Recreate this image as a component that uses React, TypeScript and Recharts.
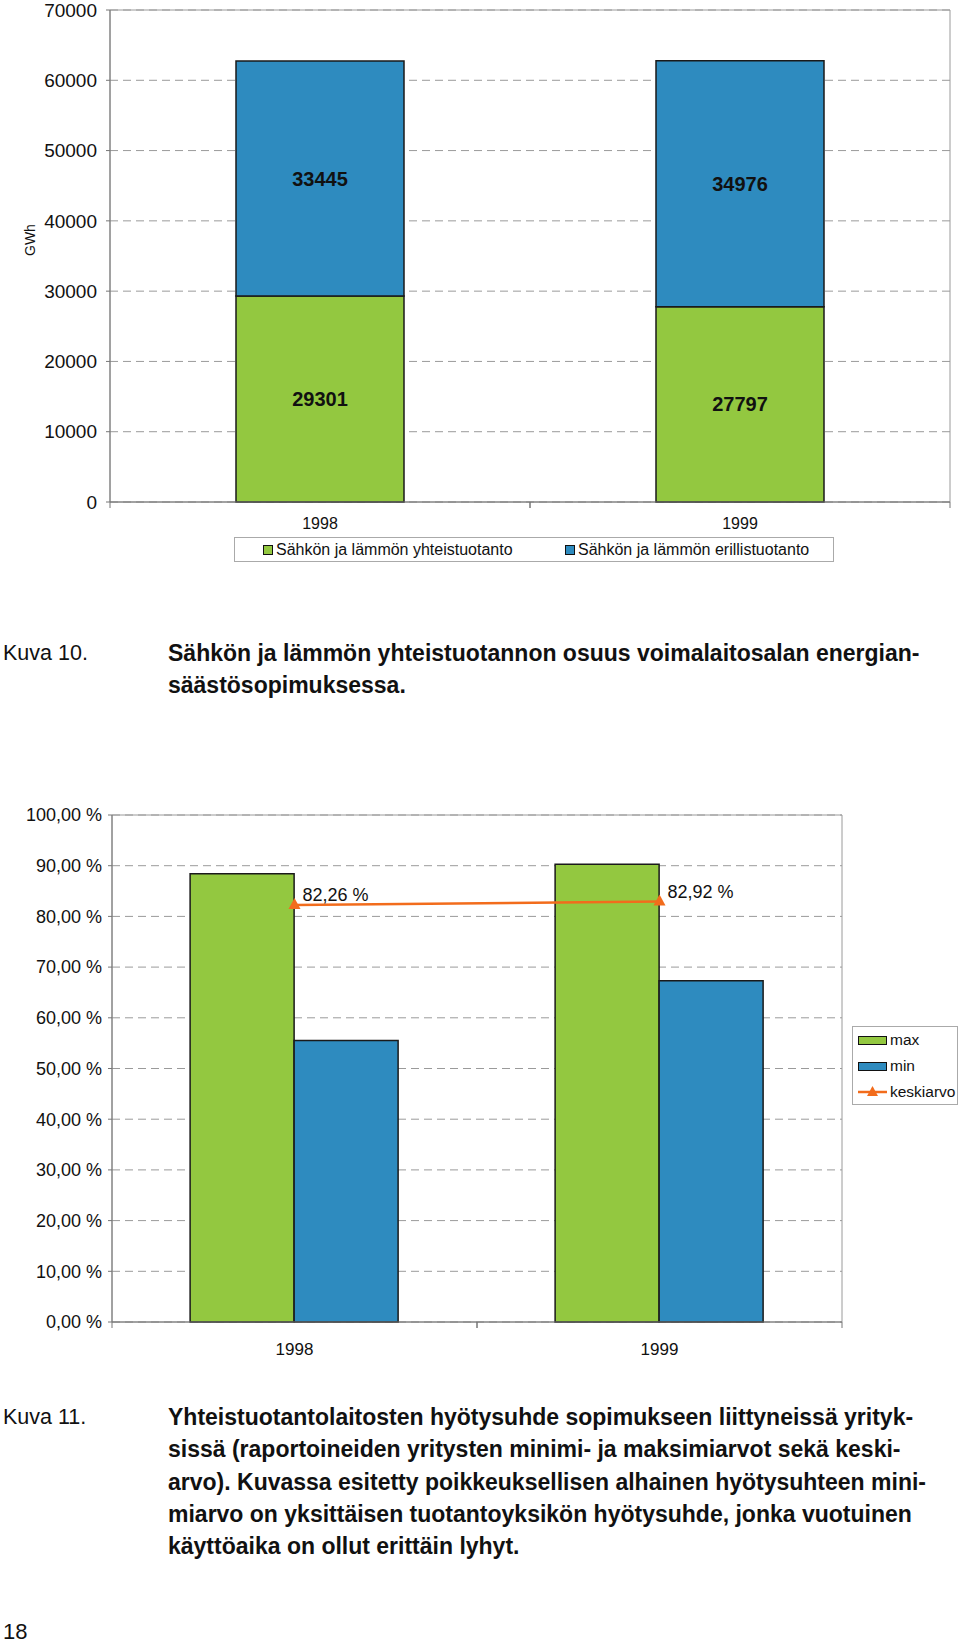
import { Bar, BarChart, CartesianGrid, ComposedChart, LabelList, Line, ReferenceArea, XAxis, YAxis } from "recharts";

const years = ["1998", "1999"];
const chpValues = [29301, 27797];
const separateValues = [33445, 34976];
const gwhTicks = [0, 10000, 20000, 30000, 40000, 50000, 60000, 70000];
const topSeriesNames = ["Sähkön ja lämmön yhteistuotanto", "Sähkön ja lämmön erillistuotanto"];

const maxValues = [0.884, 0.903];
const minValues = [0.555, 0.673];
const meanValues = [0.8226, 0.8292];
const pctTicks = [0, 0.1, 0.2, 0.3, 0.4, 0.5, 0.6, 0.7, 0.8, 0.9, 1];
const bottomSeriesNames = ["max", "min", "keskiarvo"];

const GREEN = "#93c840";
const BLUE = "#2e8bbf";
const ORANGE = "#f26c1c";
const FONT = "'Liberation Sans', Arial, Helvetica, sans-serif";

const topData = years.map((year, i) => ({ year, chp: chpValues[i], sep: separateValues[i] }));
const bottomData = years.map((year, i) => ({ year, max: maxValues[i], min: minValues[i], mean: meanValues[i] }));

const fmtPct = (v: number) => (v * 100).toFixed(2).replace(".", ",") + " %";

// category label plus Excel-style tick marks on the band edges
const CatTick = ({ x, y, payload, gap, fontSize, halfBand }: any) => {
    const off = payload?.offset || halfBand;
    const ay = y - gap;
    return (
        <g>
            <line x1={x - off} y1={ay} x2={x - off} y2={ay + 6} stroke="#777" />
            <line x1={x + off} y1={ay} x2={x + off} y2={ay + 6} stroke="#777" />
            <text x={x} y={y} dy="0.71em" textAnchor="middle" fontSize={fontSize} fill="#111" fontFamily={FONT}>{payload.value}</text>
        </g>
    );
};

const Triangle = ({ cx, cy }: any) => {
    if (cx == null || cy == null) return null;
    return <polygon points={`${cx},${cy - 7} ${cx - 6},${cy + 4} ${cx + 6},${cy + 4}`} fill={ORANGE} />;
};

const meanLabel = ({ x, y, value }: any) => (
    <text x={x + 8} y={y - 4} fontSize={18} fill="#111" fontFamily={FONT}>{fmtPct(value)}</text>
);

const Swatch = ({ color, w, h }: { color: string; w: number; h: number }) => (
    <span style={{ display: "inline-block", width: w, height: h, background: color, border: "1px solid #111", boxSizing: "border-box" }} />
);

const caption = (top: number, text: string, bold = true, left = 168) => (
    <div style={{ position: "absolute", top: top - 14, left, fontSize: bold ? 23 : 21.5, lineHeight: "28px", fontWeight: bold ? "bold" : "normal", whiteSpace: "nowrap", color: "#111" }}>
        {text}
    </div>
);

export default function App() {
    return (
        <div style={{ position: "absolute", left: 0, top: 0, width: 960, height: 1648, background: "#fff", fontFamily: FONT, color: "#111" }}>
            {/* Kuva 10 */}
            <div style={{ position: "absolute", left: 0, top: 0 }}>
                <BarChart width={960} height={560} data={topData} margin={{ top: 10, right: 10, left: 0, bottom: 0 }} barCategoryGap="30%">
                    <CartesianGrid vertical={false} stroke="#9a9a9a" strokeDasharray="8 5" />
                    <XAxis xAxisId="cat" dataKey="year" height={58} stroke="#777" tickLine={false} tickSize={6} tickMargin={10}
                        tick={<CatTick gap={16} fontSize={16} halfBand={210} />} />
                    <YAxis width={110} domain={[0, 70000]} ticks={gwhTicks} interval={0} tickSize={4} tickMargin={9} stroke="#777"
                        tick={{ fontSize: 19, fill: "#111", fontFamily: FONT }}
                        label={{ value: "GWh", angle: -90, position: "insideLeft", offset: 30, fontSize: 14, fill: "#111", fontFamily: FONT }} />
                    <ReferenceArea xAxisId="cat" x1="1998" x2="1999" y1={0} y2={70000} fill="none" stroke="#9a9a9a" ifOverflow="visible" />
                    <Bar xAxisId="cat" dataKey="chp" stackId="a" fill={GREEN} stroke="#1a1a1a" strokeWidth={1.5} isAnimationActive={false}>
                        <LabelList dataKey="chp" position="center" fontSize={20} fontWeight="bold" fill="#111" fontFamily={FONT} />
                    </Bar>
                    <Bar xAxisId="cat" dataKey="sep" stackId="a" fill={BLUE} stroke="#1a1a1a" strokeWidth={1.5} isAnimationActive={false}>
                        <LabelList dataKey="sep" position="center" fontSize={20} fontWeight="bold" fill="#111" fontFamily={FONT} />
                    </Bar>
                </BarChart>
            </div>
            <div style={{ position: "absolute", left: 234, top: 537, width: 600, height: 25, border: "1px solid #aaa", boxSizing: "border-box", fontSize: 16 }}>
                <div style={{ position: "absolute", left: 28, top: 3, display: "flex", alignItems: "center", gap: 3 }}>
                    <Swatch color={GREEN} w={10} h={10} /><span>{topSeriesNames[0]}</span>
                </div>
                <div style={{ position: "absolute", left: 330, top: 3, display: "flex", alignItems: "center", gap: 3 }}>
                    <Swatch color={BLUE} w={10} h={10} /><span>{topSeriesNames[1]}</span>
                </div>
            </div>

            {caption(653, "Kuva 10.", false, 3)}
            {caption(653, "Sähkön ja lämmön yhteistuotannon osuus voimalaitosalan energian-")}
            {caption(685, "säästösopimuksessa.")}

            {/* Kuva 11 */}
            <div style={{ position: "absolute", left: 0, top: 790 }}>
                <ComposedChart width={960} height={576} data={bottomData} margin={{ top: 25, right: 118, left: 0, bottom: 0 }} barCategoryGap="21.4%" barGap={0}>
                    <CartesianGrid vertical={false} stroke="#9a9a9a" strokeDasharray="8 5" />
                    <XAxis xAxisId="cat" dataKey="year" height={44} stroke="#777" tickLine={false} tickSize={6} tickMargin={15}
                        tick={<CatTick gap={21} fontSize={17} halfBand={182.5} />} />
                    <YAxis width={112} domain={[0, 1]} ticks={pctTicks} interval={0} tickSize={4} tickMargin={6} stroke="#777"
                        tickFormatter={fmtPct} tick={{ fontSize: 18, fill: "#111", fontFamily: FONT }} />
                    <ReferenceArea xAxisId="cat" x1="1998" x2="1999" y1={0} y2={1} fill="none" stroke="#9a9a9a" ifOverflow="visible" />
                    <Bar xAxisId="cat" dataKey="max" name={bottomSeriesNames[0]} fill={GREEN} stroke="#1a1a1a" strokeWidth={1.5} isAnimationActive={false} />
                    <Bar xAxisId="cat" dataKey="min" name={bottomSeriesNames[1]} fill={BLUE} stroke="#1a1a1a" strokeWidth={1.5} isAnimationActive={false} />
                    <Line xAxisId="cat" dataKey="mean" name={bottomSeriesNames[2]} stroke={ORANGE} strokeWidth={2.5} dot={<Triangle />} activeDot={false} isAnimationActive={false}>
                        <LabelList dataKey="mean" content={meanLabel} />
                    </Line>
                </ComposedChart>
            </div>
            <div style={{ position: "absolute", left: 852, top: 1026, width: 106, height: 79, border: "1px solid #aaa", boxSizing: "border-box", fontSize: 15.5 }}>
                <div style={{ position: "absolute", left: 5, top: 4, display: "flex", alignItems: "center", gap: 3 }}>
                    <Swatch color={GREEN} w={29} h={9} /><span>{bottomSeriesNames[0]}</span>
                </div>
                <div style={{ position: "absolute", left: 5, top: 30, display: "flex", alignItems: "center", gap: 3 }}>
                    <Swatch color={BLUE} w={29} h={9} /><span>{bottomSeriesNames[1]}</span>
                </div>
                <div style={{ position: "absolute", left: 5, top: 56, display: "flex", alignItems: "center", gap: 3 }}>
                    <svg width={29} height={14}>
                        <line x1={0} y1={7} x2={29} y2={7} stroke={ORANGE} strokeWidth={2.5} />
                        <polygon points="14.5,1 9,11 20,11" fill={ORANGE} />
                    </svg>
                    <span>{bottomSeriesNames[2]}</span>
                </div>
            </div>

            {caption(1417, "Kuva 11.", false, 3)}
            {caption(1417, "Yhteistuotantolaitosten hyötysuhde sopimukseen liittyneissä yrityk-")}
            {caption(1449, "sissä (raportoineiden yritysten minimi- ja maksimiarvot sekä keski-")}
            {caption(1482, "arvo). Kuvassa esitetty poikkeuksellisen alhainen hyötysuhteen mini-")}
            {caption(1514, "miarvo on yksittäisen tuotantoyksikön hyötysuhde, jonka vuotuinen")}
            {caption(1546, "käyttöaika on ollut erittäin lyhyt.")}

            <div style={{ position: "absolute", left: 3, top: 1619, fontSize: 22, whiteSpace: "nowrap" }}>18</div>
        </div>
    );
}
